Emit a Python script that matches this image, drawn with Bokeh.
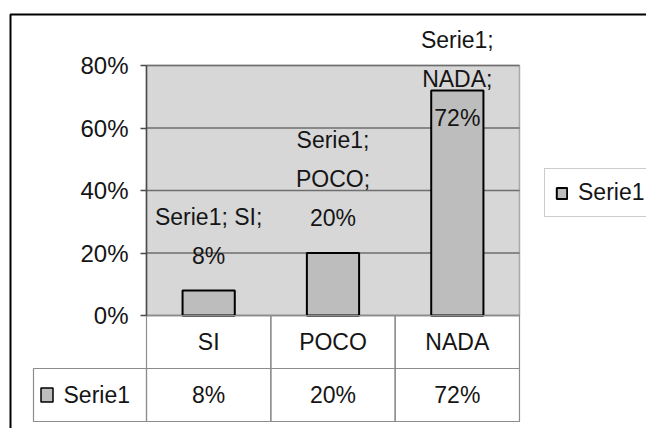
from bokeh.plotting import figure
from bokeh.models import Range1d, FixedTicker, NumeralTickFormatter, ColumnDataSource, Legend, LegendItem
from bokeh.core.properties import value
from bokeh.embed import file_html
from bokeh.resources import INLINE
import numpy as np

# ---- data ----
categories = ["SI", "POCO", "NADA"]
series_name = "Serie1"
values = [0.08, 0.20, 0.72]
y_ticks = [0.0, 0.2, 0.4, 0.6, 0.8]

# ---- layout constants (pixels) ----
W, H = 646, 428
PX_X = 124.33          # px per category slot
PX_Y = 312.5           # px per 100%
PLOT_LEFT = 146        # plot area left edge within figure
ZERO_Y = 315           # 0% line within figure (from top)
FONT = "Liberation Sans"
TXT = "#151515"

def dx(px):
    return px / PX_X

def dy(px):
    return px / PX_Y

x_lo = -PLOT_LEFT / PX_X
x_hi = (W - PLOT_LEFT) / PX_X
y_lo = -(H - ZERO_Y) / PX_Y
y_hi = ZERO_Y / PX_Y

p = figure(width=W, height=H, output_backend="svg", toolbar_location=None,
           x_range=Range1d(x_lo, x_hi), y_range=Range1d(y_lo, y_hi),
           x_axis_location=None, y_axis_location="left",
           min_border=0, outline_line_color=None, background_fill_color="white")
p.xgrid.visible = False
p.ygrid.visible = False

n = len(categories)
centers = [i + 0.5 for i in range(n)]
top_val = y_ticks[-1]

# outer chart border
bx = x_lo + dx(10)
by = y_hi - dy(14)
p.line(x=[bx, bx, x_hi + 1], y=[y_lo - 1, by, by], line_color="black", line_width=2)

# plot area
p.quad(left=[0], right=[n], bottom=[0], top=[top_val], fill_color="#d7d7d7",
       line_color="#a8a8a8", line_width=1.5)
# gridlines
p.segment(x0=[0] * len(y_ticks), x1=[n] * len(y_ticks), y0=y_ticks, y1=y_ticks,
          line_color="#6e6e6e", line_width=1.5)

# bars
src = ColumnDataSource(dict(x=centers, top=values, cat=categories))
bars = p.vbar(x="x", top="top", bottom=0, width=0.42, source=src,
              fill_color="#bdbdbd", line_color="black", line_width=2)

# data labels
labels = []
for c, v in zip(categories, values):
    pct = f"{round(v * 100)}%"
    if len(c) > 2:
        labels.append(f"{series_name};\n{c};\n{pct}")
    else:
        labels.append(f"{series_name}; {c};\n{pct}")
LABEL_CAP = 0.52
lab_y = list(np.minimum(values, LABEL_CAP))
p.text(x=centers, y=lab_y, text=labels, y_offset=-22, text_align="center",
       text_baseline="bottom", text_font=value(FONT), text_font_size="23px",
       text_line_height=1.5, text_color=TXT)

# y axis at plot area left
ax = p.yaxis[0]
ax.fixed_location = 0
ax.ticker = FixedTicker(ticks=y_ticks)
ax.formatter = NumeralTickFormatter(format="0%")
ax.bounds = (0, top_val)
ax.axis_line_color = "#4a4a4a"
ax.axis_line_width = 1.5
ax.major_tick_line_color = "#4a4a4a"
ax.major_tick_line_width = 1.5
ax.major_tick_out = 6
ax.major_tick_in = 0
ax.minor_tick_line_color = None
ax.major_label_standoff = 12
ax.major_label_text_font = FONT
ax.major_label_text_font_size = "24px"
ax.major_label_text_color = TXT

# data table
ROW_H = dy(53)
TABLE_LEFT = dx(-113)
p.quad(left=list(range(n)), right=[i + 1 for i in range(n)], bottom=-ROW_H, top=0,
       fill_color=None, line_color="#8c8c8c", line_width=1.2)
p.quad(left=[TABLE_LEFT] + list(range(n)), right=[0] + [i + 1 for i in range(n)],
       bottom=-2 * ROW_H, top=-ROW_H, fill_color=None, line_color="#8c8c8c", line_width=1.2)
p.text(x=centers, y=[-ROW_H / 2] * n, text=categories, text_align="center",
       text_baseline="middle", text_font=value(FONT), text_font_size="23px", text_color=TXT)
p.text(x=centers, y=[-1.5 * ROW_H] * n, text=[f"{round(v * 100)}%" for v in values],
       text_align="center", text_baseline="middle", text_font=value(FONT),
       text_font_size="23px", text_color=TXT)
# series key in table
p.rect(x=[TABLE_LEFT + dx(13.5)], y=[-1.5 * ROW_H], width=12, height=14,
       width_units="screen", height_units="screen", fill_color="#bdbdbd",
       line_color="black", line_width=1.5)
p.text(x=[TABLE_LEFT + dx(30)], y=[-1.5 * ROW_H], text=[series_name], text_align="left",
       text_baseline="middle", text_font=value(FONT), text_font_size="23px", text_color=TXT)

# legend
legend = Legend(items=[LegendItem(label=series_name, renderers=[bars])],
                location=(544, 211), padding=10, margin=0, spacing=0,
                glyph_width=13, glyph_height=14, label_standoff=10,
                label_text_font=FONT, label_text_font_size="23px", label_text_color=TXT,
                border_line_color="#9a9a9a", border_line_width=1.2,
                background_fill_color="white", background_fill_alpha=1)
p.add_layout(legend)

open("out.html", "w").write(file_html(p, INLINE))
